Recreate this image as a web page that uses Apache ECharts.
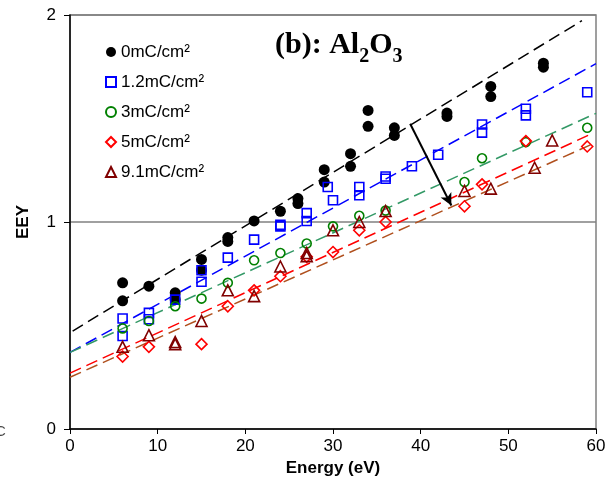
<!DOCTYPE html>
<html>
<head>
<meta charset="utf-8">
<script src="https://cdn.jsdelivr.net/npm/echarts@6/dist/echarts.min.js"></script>
<style>
  html, body { margin: 0; padding: 0; background: #fff; }
  #chart { width: 612px; height: 491px; }
</style>
</head>
<body>
<div id="chart"></div>
<script>
// measured points [energy (eV), EEY]
const dose0 = [[6, 0.706], [6, 0.619], [9, 0.690], [12, 0.658], [12, 0.625], [15, 0.819], [15, 0.767],
  [18, 0.925], [18, 0.906], [21, 1.005], [24, 1.052], [26, 1.113], [26, 1.089], [29, 1.253], [29, 1.193],
  [32, 1.330], [32, 1.269], [34, 1.539], [34, 1.462], [37, 1.455], [37, 1.418], [43, 1.526], [43, 1.510],
  [48, 1.655], [48, 1.606], [54, 1.767], [54, 1.748]];
const dose12 = [[6, 0.534], [6, 0.449], [9, 0.561], [9, 0.530], [12, 0.625], [15, 0.767], [15, 0.711],
  [18, 0.828], [21, 0.915], [24, 0.979], [24, 0.986], [27, 1.043], [27, 1.005], [29.4, 1.169], [30, 1.105],
  [33, 1.169], [33, 1.129], [36, 1.209], [36, 1.220], [39, 1.269], [42, 1.325], [47, 1.471], [47, 1.432],
  [52, 1.547], [52, 1.515], [59, 1.627]];
const dose3 = [[6, 0.486], [9, 0.522], [12, 0.593], [15, 0.630], [18, 0.706], [21, 0.815], [24, 0.850],
  [27, 0.896], [30, 0.979], [33, 1.030], [36, 1.055], [45, 1.193], [47, 1.308], [52, 1.386], [59, 1.455]];
const dose5 = [[6, 0.350], [9, 0.397], [15, 0.410], [18, 0.593], [21, 0.670], [24, 0.738], [27, 0.832],
  [30, 0.855], [33, 0.960], [36, 1.000], [45, 1.076], [47, 1.182], [52, 1.391], [59, 1.365]];
const dose91 = [[6, 0.397], [9, 0.453], [12, 0.420], [12, 0.410], [15, 0.522], [18, 0.670], [21, 0.642],
  [24, 0.785], [27, 0.850], [27, 0.835], [30, 0.960], [33, 1.000], [36, 1.053], [45, 1.150], [48, 1.161],
  [53, 1.262], [55, 1.394]];

// dashed fit lines, end points
const fit0 = [[0.3, 0.473], [58.4, 1.973]];
const fit12 = [[0, 0.370], [60, 1.765]];
const fit3 = [[0, 0.370], [60, 1.525]];
const fit5 = [[0, 0.270], [59.5, 1.426]];
const fit91 = [[0, 0.250], [59.5, 1.375]];

const arrowFrom = [38.8, 1.475];
const arrowTo = [43.5, 1.08];

const names = ['0mC/cm²', '1.2mC/cm²', '3mC/cm²', '5mC/cm²', '9.1mC/cm²'];
const xTicks = { min: 0, max: 60, interval: 10 };
const yTicks = { min: 0, max: 2, interval: 1 };

const chart = echarts.init(document.getElementById('chart'), null, { renderer: 'canvas' });

function points(name, data, symbol, size, color, filled) {
  return {
    name: name,
    type: 'scatter',
    data: data,
    symbol: symbol,
    symbolSize: size,
    itemStyle: filled
      ? { color: color, opacity: 1 }
      : { color: 'rgba(0,0,0,0)', borderColor: color, borderWidth: 1.6, opacity: 1 },
    z: 3,
  };
}

function fit(data, color) {
  return {
    type: 'line',
    data: data,
    showSymbol: false,
    silent: true,
    lineStyle: { color: color, width: 1.5, type: [12, 6] },
    z: 2,
  };
}

const fitBlack = fit(fit0, '#000');
fitBlack.markLine = {
  silent: true,
  symbol: ['none', 'arrow'],
  symbolSize: [9, 12],
  label: { show: false },
  lineStyle: { color: '#000', width: 2, type: 'solid' },
  data: [[{ coord: arrowFrom }, { coord: arrowTo }]],
};

const option = {
  animation: false,
  backgroundColor: '#fff',
  grid: { left: 70, right: 16, top: 15, bottom: 62, show: true, borderColor: '#808080', borderWidth: 1.5 },
  title: {
    left: 270,
    top: 25,
    text: '{a|(b): Al}{s|2}{a|O}{s|3}',
    textStyle: {
      rich: {
        a: { fontFamily: 'Liberation Serif', fontWeight: 'bold', fontSize: 30, lineHeight: 36, verticalAlign: 'top', color: '#000' },
        s: { fontFamily: 'Liberation Serif', fontWeight: 'bold', fontSize: 20, lineHeight: 20, padding: [17, 0, 0, 0], verticalAlign: 'top', color: '#000' },
      },
    },
  },
  legend: {
    data: names,
    orient: 'vertical',
    left: 100,
    top: 38,
    itemWidth: 10,
    itemHeight: 10,
    itemGap: 12,
    textStyle: { fontFamily: 'Liberation Sans', fontSize: 17, lineHeight: 18, color: '#000' },
  },
  xAxis: {
    type: 'value',
    min: xTicks.min,
    max: xTicks.max,
    interval: xTicks.interval,
    name: 'Energy (eV)',
    nameLocation: 'middle',
    nameGap: 30,
    nameTextStyle: { fontFamily: 'Liberation Sans', fontWeight: 'bold', fontSize: 17, color: '#000' },
    axisLine: { lineStyle: { color: '#000', width: 1.5 } },
    axisTick: { show: true, length: 5, lineStyle: { color: '#000' } },
    axisLabel: { fontFamily: 'Liberation Sans', fontSize: 17, color: '#000', margin: 9 },
    splitLine: { show: false },
  },
  yAxis: {
    type: 'value',
    min: yTicks.min,
    max: yTicks.max,
    interval: yTicks.interval,
    name: 'EEY',
    nameLocation: 'middle',
    nameRotate: 90,
    nameGap: 38,
    nameTextStyle: { fontFamily: 'Liberation Sans', fontWeight: 'bold', fontSize: 17, color: '#000' },
    axisLine: { show: true, lineStyle: { color: '#000', width: 1.5 } },
    axisTick: { show: true, length: 6, lineStyle: { color: '#000' } },
    axisLabel: { fontFamily: 'Liberation Sans', fontSize: 17, color: '#000', margin: 14 },
    splitLine: { show: true, lineStyle: { color: '#808080', width: 1.5 } },
  },
  graphic: [
    { type: 'text', left: -5, top: 424, style: { text: 'C', fontFamily: 'Liberation Sans', fontSize: 15, fill: '#444' } },
  ],
  series: [
    fitBlack,
    fit(fit12, '#0000ff'),
    fit(fit3, '#339966'),
    fit(fit5, '#ff0000'),
    fit(fit91, '#b0501e'),
    points(names[0], dose0, 'circle', 11, '#000', true),
    points(names[1], dose12, 'rect', 9, '#0000ff', false),
    points(names[2], dose3, 'circle', 9, '#008000', false),
    points(names[3], dose5, 'diamond', 11, '#ff0000', false),
    points(names[4], dose91, 'triangle', 11, '#800000', false),
  ],
};

chart.setOption(option);
</script>
</body>
</html>
